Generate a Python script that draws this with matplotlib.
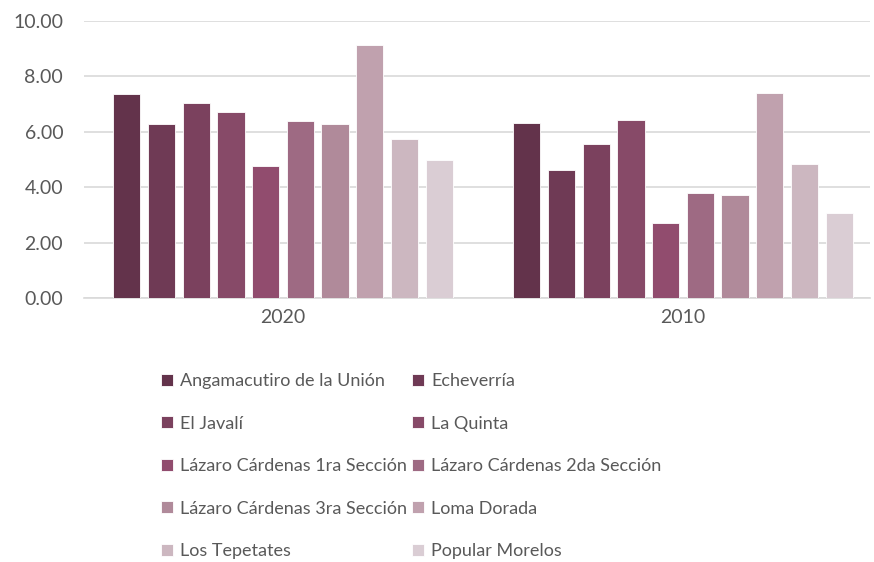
import matplotlib
matplotlib.use("Agg")
import matplotlib.pyplot as plt
import numpy as np

years = ["2020", "2010"]
localities = [
    "Angamacutiro de la Unión",
    "Echeverría",
    "El Javalí",
    "La Quinta",
    "Lázaro Cárdenas 1ra Sección",
    "Lázaro Cárdenas 2da Sección",
    "Lázaro Cárdenas 3ra Sección",
    "Loma Dorada",
    "Los Tepetates",
    "Popular Morelos",
]
values_2020 = [7.38, 6.27, 7.03, 6.70, 4.77, 6.40, 6.29, 9.15, 5.75, 4.98]
values_2010 = [6.33, 4.62, 5.56, 6.43, 2.70, 3.78, 3.71, 7.41, 4.85, 3.06]
colors = ["#63334b", "#6f3a55", "#7b415e", "#874a68", "#914c6e",
          "#9e6a83", "#b08a9a", "#c0a1ae", "#ccb7c0", "#dacdd4"]

plt.rcParams["font.family"] = ["Lato", "DejaVu Sans"]
text_color = "#595959"

fig = plt.figure(figsize=(8.74, 5.62), dpi=100)
ax = fig.add_axes([0.0961, 0.4698, 0.8993, 0.4928])

data = np.array([values_2020, values_2010])
x = np.arange(len(years))
slot = 0.0868
width = 0.068
handles = []
for i, name in enumerate(localities):
    offs = (i - (len(localities) - 1) / 2) * slot
    b = ax.bar(x + offs, data[:, i], width, color=colors[i],
               edgecolor="white", linewidth=0.6, label=name, zorder=3)
    handles.append(b)

ax.set_xlim(-0.4975, 1.4675)
ax.set_ylim(0, 10)
ax.set_yticks(np.arange(0, 10.01, 2))
ax.set_yticklabels([f"{v:.2f}" for v in np.arange(0, 10.01, 2)])
ax.set_xticks(x)
ax.set_xticklabels(years)
ax.grid(axis="y", color="#d9d9d9", linewidth=1.2, zorder=0)
for s in ["top", "right", "left"]:
    ax.spines[s].set_visible(False)
ax.spines["bottom"].set_color("#d9d9d9")
ax.spines["bottom"].set_linewidth(1.2)
ax.tick_params(length=0, labelsize=14, colors=text_color, pad=8)
ax.tick_params(axis="y", pad=15)

# legend filled row by row, like the original
order = [0, 2, 4, 6, 8, 1, 3, 5, 7, 9]
fig.legend([handles[k] for k in order], [localities[k] for k in order],
           ncol=2, loc="upper left", bbox_to_anchor=(0.176, 0.349),
           frameon=False, fontsize=13, labelcolor=text_color,
           handlelength=0.65, handleheight=0.65, handletextpad=0.4,
           columnspacing=0.3, labelspacing=1.47, borderaxespad=0)

fig.savefig("out.png", dpi=100)
